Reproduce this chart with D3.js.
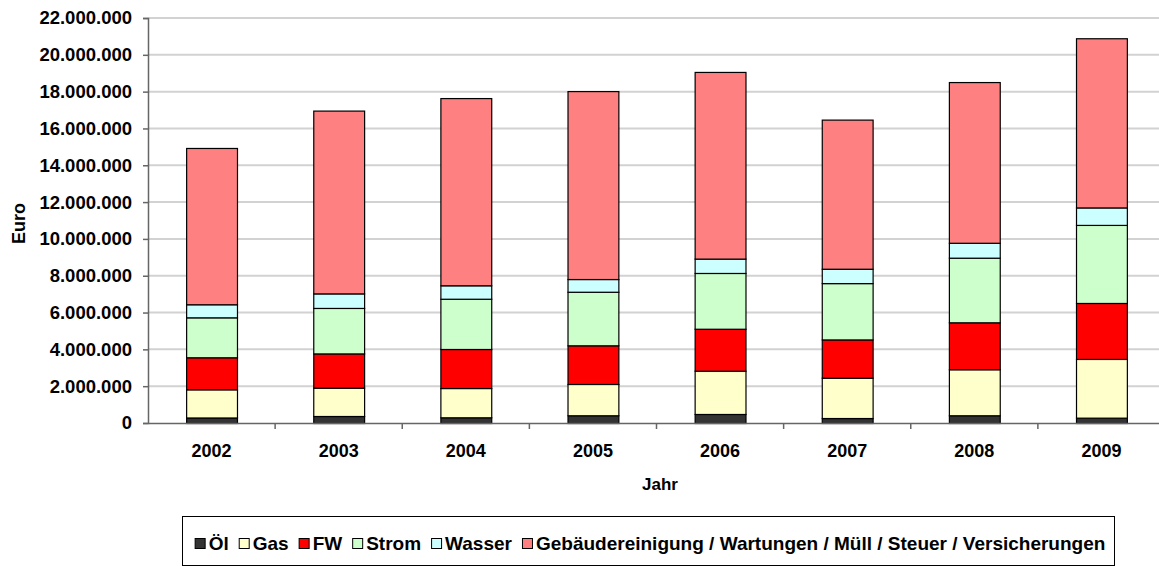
<!DOCTYPE html>
<html><head><meta charset="utf-8">
<script src="https://cdn.jsdelivr.net/npm/d3@7"></script>
<style>html,body{margin:0;padding:0;background:#fff;overflow:hidden;}svg{display:block;font-family:"Liberation Sans",Arial,sans-serif;font-weight:bold;}</style>
</head><body><svg id="c" width="1159" height="566"></svg>
<script>
const years = ["2002","2003","2004","2005","2006","2007","2008","2009"];
const seriesNames = ["Öl","Gas","FW","Strom","Wasser","Gebäudereinigung / Wartungen / Müll / Steuer / Versicherungen"];
const oel     = [300000, 380000, 310000, 420000, 490000, 270000, 420000, 290000];
const gas     = [1530000,1540000,1590000,1700000,2350000,2190000,2500000,3190000];
const fw      = [1740000,1860000,2120000,2100000,2280000,2080000,2550000,3040000];
const strom   = [2170000,2470000,2730000,2910000,3030000,3060000,3510000,4240000];
const wasser  = [710000, 790000, 730000, 690000, 780000, 780000, 810000, 950000];
const gebaeude= [8490000,9930000,10170000,10210000,10140000,8100000,8730000,9190000];
const yTicks  = [0,2000000,4000000,6000000,8000000,10000000,12000000,14000000,16000000,18000000,20000000,22000000];
const colors  = ["#333333","#FFFFCC","#FF0000","#CCFFCC","#CCFFFF","#FF8080"];

const keys = ["oel","gas","fw","strom","wasser","geb"];
const table = years.map((y,i)=>({year:y,oel:oel[i],gas:gas[i],fw:fw[i],strom:strom[i],wasser:wasser[i],geb:gebaeude[i]}));

const svg = d3.select("#c");
const L=148, R=1165, T=18, B=423;
const x = d3.scaleBand().domain(years).range([L,R]).paddingInner(0.6).paddingOuter(0.3);
const xc = d3.scaleBand().domain(years).range([L,R]).padding(0);
const y = d3.scaleLinear().domain([0,22000000]).range([B,T]);
const loc = d3.formatLocale({decimal:",",thousands:".",grouping:[3],currency:["","€"]});
const fmt = loc.format(",");

// gridlines
svg.append("g").selectAll("line").data(yTicks.filter(d=>d>0)).join("line")
  .attr("x1",L).attr("x2",R).attr("y1",d=>y(d)).attr("y2",d=>y(d))
  .attr("stroke","#d2d2d2").attr("stroke-width",2);

// bars
const stack = d3.stack().keys(keys)(table);
const gBars = svg.append("g");
stack.forEach((layer,k)=>{
  gBars.append("g").selectAll("rect").data(layer).join("rect")
    .attr("x",d=>x(d.data.year)+0.5).attr("width",x.bandwidth())
    .attr("y",d=>y(d[1])+0.5).attr("height",d=>y(d[0])-y(d[1]))
    .attr("fill",colors[k]).attr("stroke","#000").attr("stroke-width",1.2);
});

// y axis
const ya = svg.append("g").attr("transform",`translate(${L},0)`)
  .call(d3.axisLeft(y).tickValues(yTicks).tickFormat(fmt).tickSize(5).tickPadding(11));
ya.select(".domain").attr("stroke","#666").attr("stroke-width",1.5);
ya.selectAll(".tick line").attr("stroke","#666").attr("stroke-width",1.5);
ya.selectAll("text").attr("font-size",18.5).attr("font-weight","bold").attr("fill","#000")
  .attr("font-family","Liberation Sans, Arial, sans-serif");

// x axis
const xa = svg.append("g").attr("transform",`translate(0,${B})`)
  .call(d3.axisBottom(xc).tickSize(0).tickPadding(21));
xa.select(".domain").attr("stroke","#666").attr("stroke-width",1.5);
xa.selectAll("text").attr("font-size",18).attr("font-weight","bold").attr("fill","#000")
  .attr("font-family","Liberation Sans, Arial, sans-serif");
xa.append("g").selectAll("line").data(years.slice(1)).join("line")
  .attr("x1",d=>xc(d)).attr("x2",d=>xc(d))
  .attr("y1",0).attr("y2",6).attr("stroke","#666").attr("stroke-width",1.5);

// axis titles
svg.append("text").attr("x",660).attr("y",490).attr("text-anchor","middle")
  .attr("font-size",17).text("Jahr");
svg.append("text").attr("transform",`translate(25,${(T+B)/2+3}) rotate(-90)`)
  .attr("text-anchor","middle").attr("font-size",18).text("Euro");

// legend
const lg = svg.append("g");
lg.append("rect").attr("x",182.5).attr("y",516.5).attr("width",932).attr("height",49)
  .attr("fill","none").attr("stroke","#000").attr("stroke-width",1);
const items = lg.append("g");
let cx = 0;
seriesNames.forEach((n,i)=>{
  const it = items.append("g").attr("transform",`translate(${cx},0)`);
  it.append("rect").attr("x",0.5).attr("y",-11.5).attr("width",10).attr("height",10)
    .attr("fill",colors[i]).attr("stroke","#000").attr("stroke-width",1);
  const t = it.append("text").attr("x",14).attr("y",0).attr("font-size",19).text(n);
  cx += 14 + t.node().getComputedTextLength() + 10;
});
const totalW = cx - 10;
items.attr("transform",`translate(${650 - totalW/2},${550})`);
</script></body></html>
